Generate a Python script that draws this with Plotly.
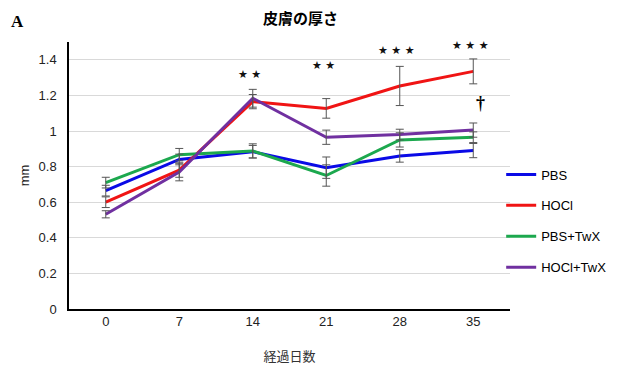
import plotly.graph_objects as go

days = ["0", "7", "14", "21", "28", "35"]
series_names = ["PBS", "HOCl", "PBS+TwX", "HOCl+TwX"]
pbs = [0.665, 0.84, 0.884, 0.794, 0.86, 0.89]
hocl = [0.60, 0.78, 1.165, 1.127, 1.253, 1.335]
pbs_twx = [0.71, 0.867, 0.888, 0.75, 0.95, 0.965]
hocl_twx = [0.532, 0.77, 1.184, 0.965, 0.98, 1.005]
err_pbs = [0.03, 0.03, 0.035, 0.06, 0.035, 0.04]
err_hocl = [0.03, 0.04, 0.04, 0.055, 0.11, 0.07]
err_pbs_twx = [0.03, 0.035, 0.04, 0.06, 0.04, 0.03]
err_hocl_twx = [0.02, 0.05, 0.05, 0.04, 0.03, 0.04]
colors = ["#0A0AE6", "#F01414", "#1CA84E", "#7030A0"]
sig_days = ["14", "21", "28", "35"]
sig_labels = ["★ ★", "★ ★", "★ ★ ★", "★ ★ ★"]
sig_y = [1.32, 1.37, 1.45, 1.48]
dagger_day = "35"
dagger_y = 1.16
y_ticks = [0, 0.2, 0.4, 0.6, 0.8, 1.0, 1.2, 1.4]
y_ticktext = ["0", "0.2", "0.4", "0.6", "0.8", "1", "1.2", "1.4"]

values = [pbs, hocl, pbs_twx, hocl_twx]
errors = [err_pbs, err_hocl, err_pbs_twx, err_hocl_twx]

fig = go.Figure()
for i, (name, v, c) in enumerate(zip(series_names, values, colors)):
    fig.add_trace(go.Scatter(x=days, y=v, mode="lines", name=name,
                             legendgroup="g%d" % i,
                             line=dict(color=c, width=3)))
for v, e in zip(values, errors):
    fig.add_trace(go.Scatter(x=days, y=v, mode="markers", showlegend=False,
                             marker=dict(size=0.1, color="rgba(0,0,0,0)"),
                             error_y=dict(type="data", array=e, visible=True,
                                          color="#555555", thickness=1, width=4),
                             hoverinfo="skip"))

font_main = "Liberation Sans, Arial, sans-serif"
for d, lab, yy in zip(sig_days, sig_labels, sig_y):
    fig.add_annotation(x=days.index(d), y=yy, text=lab, showarrow=False, xshift=-3,
                       font=dict(size=11, color="#111111", family="DejaVu Sans"))
fig.add_annotation(x=days.index(dagger_day), y=dagger_y, text="<b>†</b>", showarrow=False,
                   xshift=7, font=dict(size=18, color="black", family="Liberation Serif"))

fig.add_annotation(xref="paper", yref="paper", x=0.526, y=1.09, xanchor="center",
                   yanchor="middle", text="<b>皮膚の厚さ</b>", showarrow=False,
                   font=dict(size=15, color="black", family="Noto Sans CJK JP"))
fig.add_annotation(xref="paper", yref="paper", x=-0.116, y=1.075, xanchor="center",
                   yanchor="middle", text="<b>A</b>", showarrow=False,
                   font=dict(size=17, color="black", family="Liberation Serif"))

fig.update_layout(
    width=623, height=362,
    margin=dict(l=61, r=121, t=34, b=61, autoexpand=False),
    paper_bgcolor="white", plot_bgcolor="white",
    font=dict(family=font_main, size=13, color="#222222"),
    showlegend=True,
    legend=dict(x=0.98, y=0.56, xanchor="left", yanchor="top",
                font=dict(size=13, color="black", family=font_main),
                tracegroupgap=11, itemwidth=30, bgcolor="rgba(0,0,0,0)"),
    xaxis=dict(type="category", range=[-0.5, 5.5], showline=True, automargin=False,
               linecolor="black", linewidth=1.5, showgrid=False, ticks="",
               title=dict(text="経過日数", font=dict(size=13, family="Noto Sans CJK JP", color="#333333"), standoff=24),
               tickfont=dict(size=13)),
    yaxis=dict(range=[0, 1.5], tickvals=y_ticks, ticktext=y_ticktext, automargin=False,
               showline=True, linecolor="black", linewidth=1.5,
               showgrid=True, gridcolor="#d9d9d9", gridwidth=1, zeroline=False,
               ticks="", ticklabelstandoff=8,
               title=dict(text="mm", font=dict(size=13, color="#222222"), standoff=6),
               tickfont=dict(size=13)),
)
fig.write_html("out.html")
